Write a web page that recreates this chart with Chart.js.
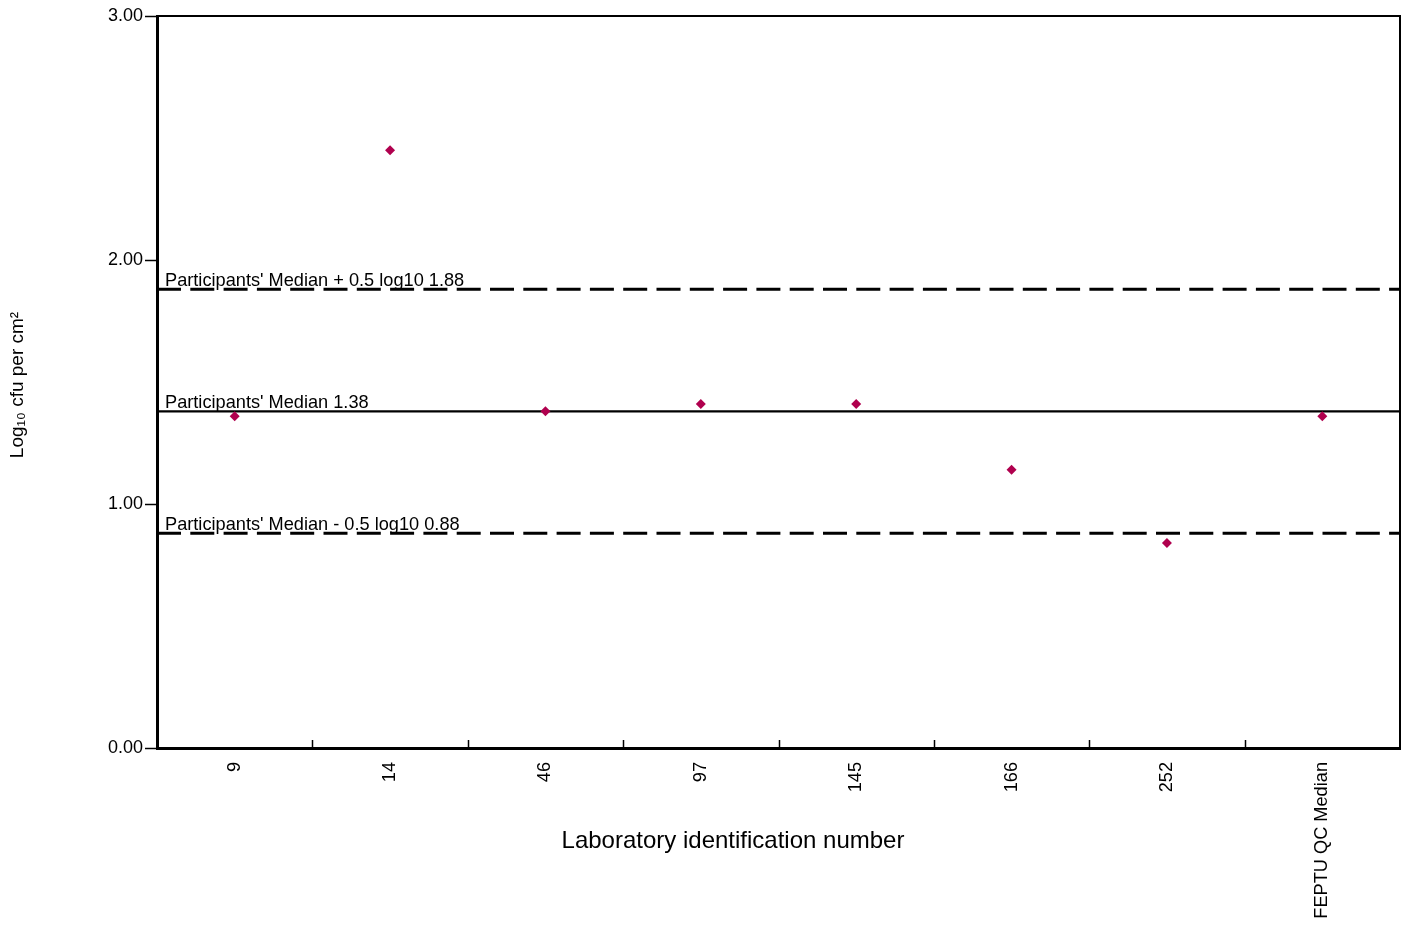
<!DOCTYPE html>
<html>
<head>
<meta charset="utf-8">
<script src="https://cdn.jsdelivr.net/npm/chart.js@4.4.0/dist/chart.umd.min.js"></script>
<style>
  html, body { margin: 0; padding: 0; background: #fff; }
  #wrap { width: 1410px; height: 925px; }
</style>
</head>
<body>
<div id="wrap"><canvas id="labChart" width="1410" height="925"></canvas></div>
<script>
const labIds = ['9', '14', '46', '97', '145', '166', '252', 'FEPTU QC Median'];
const labResults = [1.36, 2.45, 1.38, 1.41, 1.41, 1.14, 0.84, 1.36];
const yTickValues = [0, 1, 2, 3];
const refValues = [1.88, 1.38, 0.88];
const refLabels = ["Participants' Median + 0.5 log10 1.88", "Participants' Median 1.38", "Participants' Median - 0.5 log10 0.88"];
const xTitle = 'Laboratory identification number';
const yTitle = 'Log\u2081\u2080 cfu per cm\u00B2';

const FONT = '"Liberation Sans", Arial, sans-serif';

// reference lines (median +/- 0.5 log) under the points
const refLinesPlugin = {
    id: 'refLines',
    beforeDatasetsDraw(chart) {
        const { ctx, chartArea, scales } = chart;
        ctx.save();
        refValues.forEach((v, i) => {
            const y = scales.y.getPixelForValue(v);
            ctx.beginPath();
            ctx.strokeStyle = '#000';
            if (i === 1) {
                ctx.lineWidth = 2.2;
                ctx.setLineDash([]);
            } else {
                ctx.lineWidth = 3;
                ctx.setLineDash([24, 9.3]);
            }
            ctx.moveTo(chartArea.left, y);
            ctx.lineTo(chartArea.right, y);
            ctx.stroke();
            ctx.setLineDash([]);
            ctx.fillStyle = '#000';
            ctx.font = '18.2px ' + FONT;
            ctx.textAlign = 'left';
            ctx.textBaseline = 'alphabetic';
            ctx.fillText(refLabels[i], chartArea.left + 8, y - 3);
        });
        ctx.restore();
    }
};

// frame, inner category ticks and axis titles
const framePlugin = {
    id: 'frame',
    afterDraw(chart) {
        const { ctx, chartArea, scales } = chart;
        const x = scales.x;
        ctx.save();
        ctx.strokeStyle = '#000';
        ctx.lineWidth = 2;
        ctx.beginPath();
        ctx.moveTo(chartArea.left, chartArea.top);
        ctx.lineTo(chartArea.right, chartArea.top);
        ctx.lineTo(chartArea.right, chartArea.bottom);
        ctx.stroke();

        ctx.lineWidth = 1.5;
        for (let i = 0; i < labIds.length - 1; i++) {
            const px = Math.round((x.getPixelForValue(i) + x.getPixelForValue(i + 1)) / 2) + 0.5;
            ctx.beginPath();
            ctx.moveTo(px, chartArea.bottom);
            ctx.lineTo(px, chartArea.bottom - 8);
            ctx.stroke();
        }

        ctx.fillStyle = '#000';
        ctx.font = '24px ' + FONT;
        ctx.textAlign = 'center';
        ctx.textBaseline = 'middle';
        ctx.fillText(xTitle, 733, 841);

        ctx.translate(18, (chartArea.top + chartArea.bottom) / 2 + 3);
        ctx.rotate(-Math.PI / 2);
        ctx.font = '19px ' + FONT;
        ctx.fillText(yTitle, 0, 0);
        ctx.restore();
    }
};

const chartCtx = document.getElementById('labChart').getContext('2d');
new Chart(chartCtx, {
    type: 'line',
    data: {
        labels: labIds,
        datasets: [{
            data: labResults,
            showLine: false,
            pointStyle: 'rectRot',
            pointRadius: 5,
            pointBorderWidth: 0,
            backgroundColor: '#b0004e',
            borderColor: '#b0004e'
        }]
    },
    options: {
        responsive: false,
        devicePixelRatio: 1,
        animation: false,
        layout: { padding: { top: 16, right: 10, left: 0, bottom: 0 } },
        plugins: { legend: { display: false }, tooltip: { enabled: false } },
        scales: {
            x: {
                type: 'category',
                offset: true,
                grid: { display: false },
                border: { display: true, color: '#000', width: 3 },
                ticks: {
                    color: '#000',
                    font: { size: 18.2, family: FONT },
                    minRotation: 90,
                    maxRotation: 90,
                    padding: 6,
                    autoSkip: false
                },
                afterFit(scale) { scale.height = 177; }
            },
            y: {
                min: 0,
                max: 3,
                afterBuildTicks(scale) { scale.ticks = yTickValues.map(v => ({ value: v })); },
                grid: { drawOnChartArea: false, drawTicks: true, tickLength: 12, color: '#000', tickWidth: 1.5 },
                border: { display: true, color: '#000', width: 3 },
                ticks: {
                    color: '#000',
                    font: { size: 18, family: FONT },
                    padding: 2,
                    callback: v => Number(v).toFixed(2)
                },
                afterFit(scale) { scale.width = 157; }
            }
        }
    },
    plugins: [refLinesPlugin, framePlugin]
});
</script>
</body>
</html>
